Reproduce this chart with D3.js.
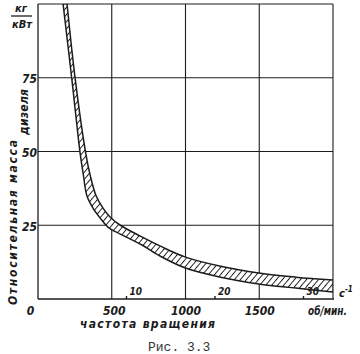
<!DOCTYPE html>
<html>
<head>
<meta charset="utf-8">
<script src="https://cdn.jsdelivr.net/npm/d3@7/dist/d3.min.js"></script>
<style>
  html, body { margin: 0; padding: 0; background: #fff; }
  svg { display: block; }
  .lbl { font-family: "DejaVu Sans Condensed", "DejaVu Sans", sans-serif; font-style: italic; font-weight: bold; fill: #1a1a1a; }
</style>
</head>
<body>
<script>
// ---- data ----
const xTicks = [0, 500, 1000, 1500];          // об/мин
const yTicks = [25, 50, 75];                  // кг/кВт
const sTicks = [10, 20, 30];                  // с^-1 (secondary scale)
const gridX = [500, 1000, 1500, 2000];
const gridY = [25, 50, 75, 100];

// outer (upper) edge of the hatched band
const upperRpm  = [197, 252, 324, 354, 393, 442, 490, 558, 694, 830, 1000, 1238, 1497, 1748, 2000];
const upperMass = [100, 74.7, 49.3, 41.9, 35.1, 30.7, 27.7, 25.0, 21.3, 17.9, 14.2, 11.1, 8.8, 7.4, 6.4];
// inner (lower) edge of the hatched band
const lowerRpm  = [170, 229, 286, 308, 331, 374, 422, 476, 558, 705, 830, 1000, 1238, 1497, 1748, 2000];
const lowerMass = [100, 74.7, 49.3, 41.9, 35.1, 30.7, 27.4, 24.3, 22.0, 18.3, 14.5, 10.5, 7.4, 5.1, 3.7, 2.4];

// ---- drawing ----
const W = 360, H = 354;
const L = 38, R = 333, T = 4, B = 299;
const ink = "#1c1c1c";

const svg = d3.select("body").append("svg").attr("width", W).attr("height", H);
svg.append("rect").attr("width", W).attr("height", H).attr("fill", "#fff");

const x = d3.scaleLinear().domain([0, 2000]).range([L, R]);
const y = d3.scaleLinear().domain([0, 100]).range([B, T]);
const xs = d3.scaleLinear().domain([0, 2000 / 60]).range([L, R]);

const defs = svg.append("defs");
defs.append("clipPath").attr("id", "plotclip")
  .append("rect").attr("x", L).attr("y", T).attr("width", R - L).attr("height", B - T);
const pat = defs.append("pattern").attr("id", "hatch")
  .attr("patternUnits", "userSpaceOnUse").attr("width", 4.6).attr("height", 4.6)
  .attr("patternTransform", "rotate(40)");
pat.append("rect").attr("width", 4.6).attr("height", 4.6).attr("fill", "#fff");
pat.append("line").attr("x1", 0).attr("y1", 0).attr("x2", 0).attr("y2", 4.6)
  .attr("stroke", ink).attr("stroke-width", 1.9);

// grid
svg.append("g").selectAll("line").data(gridX).join("line")
  .attr("x1", d => x(d)).attr("x2", d => x(d)).attr("y1", T).attr("y2", B)
  .attr("stroke", ink).attr("stroke-width", 1.1);
svg.append("g").selectAll("line").data(gridY).join("line")
  .attr("x1", L).attr("x2", R).attr("y1", d => y(d)).attr("y2", d => y(d))
  .attr("stroke", ink).attr("stroke-width", 1.1);
// axes lines
svg.append("line").attr("x1", L).attr("x2", L).attr("y1", T).attr("y2", B)
  .attr("stroke", ink).attr("stroke-width", 1.3);
svg.append("line").attr("x1", L).attr("x2", R + 1).attr("y1", B).attr("y2", B)
  .attr("stroke", ink).attr("stroke-width", 1.3);

// band
const upperPts = upperRpm.map((r, i) => [x(r), y(upperMass[i])]);
const lowerPts = lowerRpm.map((r, i) => [x(r), y(lowerMass[i])]).reverse();
const line = d3.line().curve(d3.curveCatmullRom.alpha(0.5));
const bandPath = line(upperPts) + "L" + line(lowerPts).slice(1) + "Z";
svg.append("g").attr("clip-path", "url(#plotclip)")
  .append("path").attr("d", bandPath)
  .attr("fill", "url(#hatch)").attr("stroke", ink).attr("stroke-width", 1.5)
  .attr("stroke-linejoin", "round");

// bottom axis labels
const ax = svg.append("g").attr("transform", `translate(0,${B})`)
  .call(d3.axisBottom(x).tickValues(xTicks).tickSize(0).tickPadding(7).tickFormat(d3.format("d")));
ax.select(".domain").remove();
ax.selectAll("text").attr("class", "lbl").attr("font-size", 12).attr("fill", ink)
  .attr("dx", d => d === 0 ? -8 : (d === 500 ? 2 : 0));

// left axis labels
const ay = svg.append("g").attr("transform", `translate(${L},0)`)
  .call(d3.axisLeft(y).tickValues(yTicks).tickSize(0).tickPadding(1).tickFormat(d3.format("d")));
ay.select(".domain").remove();
ay.selectAll("text").attr("class", "lbl").attr("font-size", 12).attr("fill", ink).attr("dy", "0.4em");

// secondary scale (с^-1) on the x axis
const sg = svg.append("g");
sg.selectAll("line").data(sTicks).join("line")
  .attr("x1", d => xs(d)).attr("x2", d => xs(d)).attr("y1", B).attr("y2", B - 3)
  .attr("stroke", ink).attr("stroke-width", 1.4);
sg.selectAll("text").data(sTicks).join("text")
  .attr("class", "lbl").attr("font-size", 10)
  .attr("x", d => xs(d) + 3).attr("y", B - 4).text(d => d);
const sUnit = svg.append("text").attr("class", "lbl").attr("font-size", 11)
  .attr("x", 339).attr("y", B - 2).text("с");
sUnit.append("tspan").attr("font-size", 8).attr("dy", -5).text("-1");

// units and titles
svg.append("text").attr("class", "lbl").attr("font-size", 11).attr("text-anchor", "middle")
  .attr("x", 21).attr("y", 12).text("кг");
svg.append("line").attr("x1", 11).attr("x2", 32).attr("y1", 16).attr("y2", 16)
  .attr("stroke", ink).attr("stroke-width", 1.3);
svg.append("text").attr("class", "lbl").attr("font-size", 11).attr("text-anchor", "middle")
  .attr("x", 22).attr("y", 28).text("кВт");

svg.append("text").attr("class", "lbl").attr("font-size", 12)
  .attr("transform", "translate(17,305) rotate(-90)")
  .attr("textLength", 165).attr("lengthAdjust", "spacing")
  .text("Относительная масса");
svg.append("text").attr("class", "lbl").attr("font-size", 12)
  .attr("transform", "translate(28,135) rotate(-90)")
  .attr("textLength", 46).attr("lengthAdjust", "spacing")
  .text("дизеля");

svg.append("text").attr("class", "lbl").attr("font-size", 12)
  .attr("x", 80).attr("y", 328).attr("textLength", 135).attr("lengthAdjust", "spacing")
  .text("частота вращения");
svg.append("text").attr("class", "lbl").attr("font-size", 12)
  .attr("x", 308).attr("y", 315).attr("textLength", 39).attr("lengthAdjust", "spacingAndGlyphs")
  .text("об/мин.");

svg.append("text").attr("font-family", "'Liberation Mono', 'DejaVu Sans Mono', monospace")
  .attr("font-size", 13).attr("fill", "#333")
  .attr("x", 148).attr("y", 351).text("Рис. 3.3");
</script>
</body>
</html>
